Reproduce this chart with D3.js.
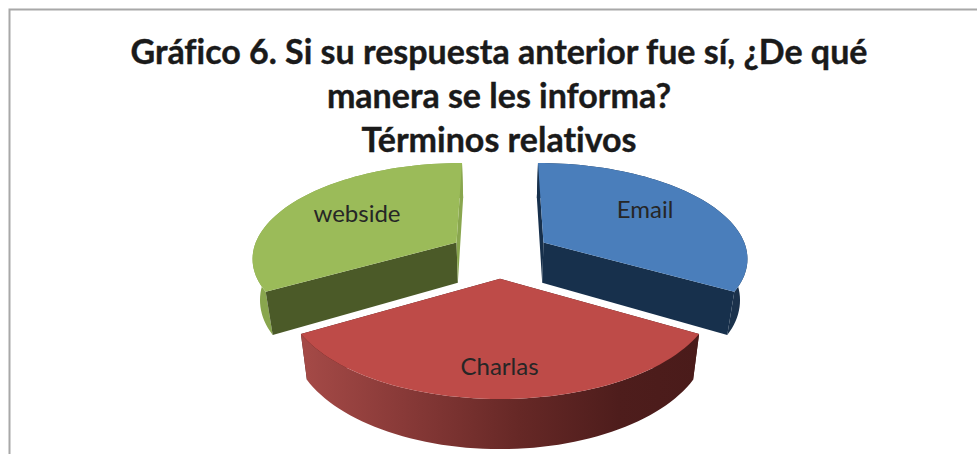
<!DOCTYPE html>
<html><head><meta charset="utf-8">
<script src="https://cdn.jsdelivr.net/npm/d3@7/dist/d3.min.js"></script>
<style>html,body{margin:0;padding:0;background:#fff;overflow:hidden}svg{display:block}text{font-variant-ligatures:none}</style>
</head><body><svg id="c" width="977" height="454"></svg>
<script>
const categories = ["Email", "Charlas", "webside"];
const values = [33.3, 33.3, 33.3];
const titleLines = ["Gráfico 6. Si su respuesta anterior fue sí, ¿De qué", "manera se les informa?", "Términos relativos"];
const topColors = ["#4a7ebb", "#be4b48", "#9bbb59"];
const innerColors = ["#17304c", "#4a1c1b", "#4b5a28"];
const outerColors = ["#1b324c", "url(#redWall)", "#89a64e"];
const labelPos = [[645, 218], [499.5, 375], [357, 222]];

const svg = d3.select("#c");
const W = 977, H = 454, CX = 500, EXPLODE = 0.25, DEPTH = 0.2, BOTTOM_SHRINK = 0.97;

svg.append("path").attr("d", `M9.5,${H} V9.5 H${W}`).attr("fill", "none").attr("stroke", "#a8a8a8").attr("stroke-width", 2);

const g = svg.append("defs").append("linearGradient").attr("id", "redWall")
  .attr("gradientUnits", "userSpaceOnUse").attr("x1", 302).attr("x2", 698).attr("y1", 0).attr("y2", 0);
[[0, "#a54a47"], [0.25, "#893a38"], [0.55, "#662826"], [0.8, "#4e1d1c"], [1, "#4a1b1a"]]
  .forEach(s => g.append("stop").attr("offset", s[0]).attr("stop-color", s[1]));

const invK = d3.scaleLinear().domain([0, 1]).range([0.00489, 0.00417]);
const yNum = d3.scaleLinear().domain([0, 1]).range([1.2431, 1.5222]);
const proj = (X, Y, z) => {
  const k = 1 / invK(Y);
  return z
    ? [CX + X * k * BOTTOM_SHRINK, yNum(Y) * k + DEPTH * k]
    : [CX + X * k, yNum(Y) * k];
};
const line = d3.line();
const arcs = d3.pie().sort(null).startAngle(0).endAngle(2 * Math.PI)(values);

function slicePieces(d) {
  const mid = (d.startAngle + d.endAngle) / 2;
  const ox = EXPLODE * Math.sin(mid), oy = -EXPLODE * Math.cos(mid);
  const pt = (a, r, z) => proj(ox + r * Math.sin(a), oy - r * Math.cos(a), z);
  const angles = d3.range(0, 61).map(i => d.startAngle + (d.endAngle - d.startAngle) * i / 60);
  const rimTop = angles.map(a => pt(a, 1, false));
  const rimBot = angles.map(a => pt(a, 1, true));
  return {
    top: [pt(0, 0, false), ...rimTop],
    outer: [...rimTop, ...rimBot.slice().reverse()],
    wallA: [pt(0, 0, false), pt(d.startAngle, 1, false), pt(d.startAngle, 1, true), pt(0, 0, true)],
    wallB: [pt(0, 0, false), pt(d.endAngle, 1, false), pt(d.endAngle, 1, true), pt(0, 0, true)]
  };
}

[2, 0, 1].forEach(i => {
  const p = slicePieces(arcs[i]);
  const gg = svg.append("g");
  const isFront = i === 1;
  if (!isFront) gg.append("path").attr("d", line(p.outer) + "Z").attr("fill", outerColors[i]);
  gg.append("path").attr("d", line(p.wallA) + "Z").attr("fill", innerColors[i]);
  gg.append("path").attr("d", line(p.wallB) + "Z").attr("fill", i === 2 ? outerColors[2] : innerColors[i]);
  if (isFront) gg.append("path").attr("d", line(p.outer) + "Z").attr("fill", outerColors[i]);
  gg.append("path").attr("d", line(p.top) + "Z").attr("fill", topColors[i]);
});

categories.forEach((c, i) => svg.append("text").text(c)
  .attr("x", labelPos[i][0]).attr("y", labelPos[i][1]).attr("text-anchor", "middle")
  .attr("font-family", "Lato, 'Open Sans', sans-serif").attr("font-size", 24).attr("fill", "#262626"));

const titleY = [64, 108, 152];
titleLines.forEach((t, i) => svg.append("text").text(t)
  .attr("x", 499).attr("y", titleY[i]).attr("text-anchor", "middle")
  .attr("font-family", "Lato, 'Open Sans', sans-serif").attr("font-weight", 700).attr("font-size", 34)
  .attr("fill", "#1a1a1a").attr("stroke", "#1a1a1a").attr("stroke-width", 0.4));
</script></body></html>
